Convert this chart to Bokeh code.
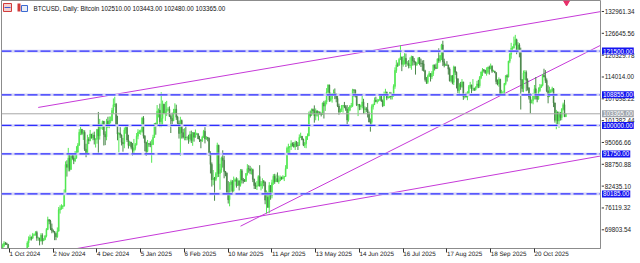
import datetime as dt
from bokeh.plotting import figure
from bokeh.layouts import row
from bokeh.models import (Range1d, LinearAxis, FixedTicker, Span, Label, ColumnDataSource)
from bokeh.core.properties import value
from bokeh.embed import file_html
from bokeh.resources import INLINE

# ---------------- data (prices in thousands of USD, daily bars) ----------------
chart_title = "BTCUSD, Daily:  Bitcoin"
start_date = "2024-09-26"
first_open_k = 63.2

close_k = [
    65.2, 65.9, 65.8, 65.6, 63.3,  # Sep 2024 (26-30)
    60.8, 60.6, 60.8, 62.1, 62.1, 62.8, 62.2, 62.1, 60.6, 60.3, 62.4, 62.9, 62.8, 66.0, 67.0, 67.6,
    67.4, 68.4, 68.4, 69.0, 67.4, 67.4, 66.6, 68.2, 66.6, 67.0, 68.0, 69.9, 72.7, 72.3, 70.2,  # Oct
    69.5, 69.3, 68.7, 67.8, 69.4, 75.6, 75.9, 76.5, 76.7, 80.5, 88.7, 87.9, 90.5, 87.3, 91.1,
    90.6, 89.8, 90.5, 92.3, 94.3, 98.0, 98.9, 97.7, 98.0, 93.1, 91.9, 95.9, 95.6, 97.5, 96.4,  # Nov
    97.2, 95.9, 96.0, 98.8, 97.0, 99.9, 99.9, 101.2, 97.4, 96.7, 101.2, 100.0, 101.4, 101.4, 104.3, 106.0,
    106.1, 100.0, 97.5, 97.8, 97.2, 95.1, 94.7, 98.7, 99.4, 95.8, 94.2, 95.2, 93.7, 92.8, 93.4,  # Dec
    94.4, 96.9, 98.1, 98.2, 98.3, 102.1, 96.9, 95.0, 92.5, 94.7, 94.6, 94.5, 94.5, 96.5, 100.5, 99.9,
    104.1, 104.4, 101.1, 102.0, 106.1, 103.6, 104.0, 104.7, 104.7, 102.6, 102.0, 101.3, 103.7, 104.7, 102.4,  # Jan 2025
    100.6, 97.7, 101.4, 97.9, 96.6, 96.6, 96.5, 96.5, 96.1, 97.4, 95.7, 97.9, 96.6, 97.5,
    97.6, 96.1, 95.8, 95.5, 96.6, 98.3, 96.1, 96.6, 96.3, 91.5, 88.7, 84.3, 84.7, 84.4,  # Feb
    86.0, 94.3, 86.1, 87.2, 90.6, 89.9, 86.7, 86.2, 80.7, 78.5, 82.9, 83.7, 81.1, 83.9, 84.3, 82.6,
    84.0, 82.7, 86.9, 84.2, 84.0, 83.8, 86.1, 87.5, 87.4, 86.9, 87.2, 84.4, 82.6, 82.4, 82.5,  # Mar
    85.2, 82.5, 83.1, 83.8, 83.5, 78.4, 79.2, 76.3, 82.6, 79.6, 83.4, 85.3, 83.7, 84.6, 83.7,
    84.0, 84.9, 84.5, 85.1, 85.2, 87.5, 93.4, 93.7, 93.9, 94.7, 94.6, 93.8, 95.0, 94.3, 94.2,  # Apr
    96.5, 96.9, 95.9, 94.3, 94.7, 96.8, 97.0, 103.2, 102.9, 104.6, 104.2, 102.8, 104.2, 103.5, 103.7, 103.5,
    103.2, 106.5, 105.6, 106.8, 109.7, 111.7, 107.3, 107.8, 109.0, 109.4, 108.9, 107.8, 105.6, 103.9, 104.6,  # May
    105.7, 105.8, 105.4, 104.7, 101.6, 104.4, 105.6, 105.7, 110.3, 110.2, 108.7, 105.9, 106.1, 105.4, 105.6,
    106.8, 104.6, 104.8, 104.6, 103.3, 101.0, 100.9, 105.4, 106.0, 107.3, 106.9, 107.1, 107.3, 108.4, 107.1,  # Jun
    105.7, 108.8, 109.6, 107.9, 108.2, 109.2, 108.3, 108.9, 111.3, 115.9, 117.5, 117.4, 119.1, 119.8, 117.7, 118.7,
    119.4, 117.9, 117.9, 117.3, 117.4, 119.9, 118.7, 118.3, 117.6, 117.9, 119.4, 118.0, 117.9, 117.8, 115.8,  # Jul
    113.3, 112.5, 114.2, 115.0, 114.1, 115.0, 117.5, 116.7, 116.5, 119.3, 118.7, 120.2, 123.3, 118.4, 117.4, 117.5,
    117.4, 116.3, 112.9, 114.3, 112.5, 116.9, 115.4, 113.5, 110.1, 111.8, 111.2, 112.6, 108.4, 108.8, 108.2,  # Aug
    109.2, 111.2, 111.7, 110.7, 110.7, 110.2, 111.1, 112.0, 111.5, 113.9, 115.5, 116.1, 115.9, 115.3, 115.4,
    116.8, 116.5, 117.1, 115.7, 115.7, 115.3, 112.7, 112.0, 113.3, 109.0, 109.7, 109.7, 112.1, 114.4, 114.0,  # Sep
    118.6, 120.6, 122.3, 122.4, 123.5, 124.8, 121.5, 123.3, 121.7, 113.2, 110.7, 115.2, 115.3, 113.1, 110.8, 108.2,
    106.5, 107.2, 108.7, 110.6, 108.5, 107.6, 110.1, 111.0, 111.6, 114.5, 114.1, 113.0, 110.0, 108.3, 109.6,  # Oct
    110.1, 110.6, 106.5, 101.5, 103.9, 101.3, 103.4, 102.3, 104.7, 106.0, 102.51, 103.365,  # Nov 1-12
]
high_k = [
    65.8, 66.5, 66.3, 66.1, 65.6,
    64.1, 62.4, 61.5, 62.5, 62.4, 63.0, 64.5, 63.2, 62.5, 61.3, 63.4, 63.4, 63.3, 66.5, 67.9, 68.4,
    67.9, 68.9, 68.7, 69.4, 69.5, 67.8, 67.5, 68.8, 68.8, 67.4, 68.3, 70.3, 73.6, 72.9, 72.7,
    71.6, 69.9, 69.4, 69.0, 70.5, 76.4, 76.9, 77.2, 76.9, 81.5, 89.6, 89.9, 93.5, 91.8, 91.8,
    91.7, 91.4, 92.6, 94.0, 94.9, 98.9, 99.6, 98.8, 98.7, 98.6, 94.7, 97.3, 96.6, 98.7, 97.5,
    97.9, 98.2, 96.3, 99.0, 103.9, 101.9, 100.5, 101.4, 101.3, 98.3, 101.9, 102.5, 102.6, 102.6, 105.1, 107.8,
    108.3, 106.5, 102.8, 98.0, 99.5, 97.4, 96.4, 99.4, 99.9, 99.9, 97.3, 95.5, 95.2, 94.9, 96.1,
    94.9, 97.8, 98.9, 98.7, 98.8, 102.5, 102.7, 97.2, 95.3, 95.8, 94.9, 95.4, 95.9, 97.3, 100.7, 100.8,
    105.9, 104.9, 106.3, 109.6, 107.2, 106.3, 106.8, 107.1, 105.3, 105.5, 103.2, 103.7, 104.8, 106.4, 106.0,
    102.8, 101.4, 102.5, 101.7, 99.0, 99.2, 100.1, 96.9, 97.3, 98.3, 98.5, 98.1, 98.0, 98.8,
    97.9, 97.7, 97.0, 96.0, 97.0, 98.7, 99.5, 96.9, 96.5, 96.5, 92.5, 89.3, 87.1, 85.1,
    86.5, 95.0, 94.4, 88.9, 91.0, 92.8, 91.2, 86.8, 86.4, 83.9, 83.6, 84.3, 84.2, 85.2, 84.7, 85.0,
    84.7, 83.9, 87.4, 87.4, 84.8, 84.5, 86.2, 88.8, 88.5, 88.3, 87.8, 87.5, 84.6, 83.5, 83.9,
    85.6, 88.5, 83.9, 84.7, 84.2, 83.8, 81.2, 80.8, 83.6, 82.7, 84.3, 85.9, 86.0, 85.8, 86.4,
    85.5, 85.5, 85.2, 85.6, 85.3, 88.5, 93.9, 94.7, 94.0, 95.7, 95.1, 95.2, 95.6, 95.5, 95.2,
    97.4, 97.9, 96.9, 96.2, 95.2, 96.9, 97.7, 104.0, 104.3, 104.9, 104.9, 105.8, 104.9, 104.4, 104.2, 104.1,
    103.7, 106.6, 107.1, 107.3, 110.8, 111.9, 111.8, 109.5, 109.3, 110.4, 110.7, 109.3, 108.9, 106.3, 104.9,
    105.9, 105.9, 106.8, 105.9, 105.9, 105.3, 105.9, 106.5, 110.6, 110.4, 110.4, 108.9, 106.2, 106.2, 106.0,
    108.9, 107.7, 105.5, 105.3, 106.5, 104.0, 102.0, 106.1, 106.3, 108.1, 108.3, 107.7, 107.6, 108.5, 108.8,
    107.5, 109.8, 110.6, 109.8, 108.5, 109.7, 109.7, 109.2, 111.9, 116.8, 118.9, 118.2, 119.5, 123.2, 119.9, 120.1,
    120.9, 120.8, 118.6, 118.9, 119.7, 120.2, 120.1, 119.5, 118.5, 118.4, 119.8, 119.8, 119.3, 118.8, 118.9,
    116.1, 114.0, 114.7, 115.7, 115.1, 115.7, 117.6, 117.6, 117.9, 119.3, 122.3, 120.3, 123.6, 124.5, 119.3, 117.9,
    118.6, 117.6, 116.8, 114.6, 114.6, 117.3, 117.1, 115.6, 113.6, 112.3, 112.6, 113.4, 112.6, 108.9, 109.5,
    109.9, 111.7, 112.6, 111.8, 113.4, 110.9, 111.3, 112.9, 113.2, 114.3, 115.5, 116.6, 116.3, 116.1, 116.8,
    117.0, 117.3, 117.9, 117.4, 116.1, 115.8, 115.3, 113.3, 113.9, 113.5, 110.3, 109.8, 112.3, 114.5, 114.8,
    118.7, 121.0, 123.9, 122.9, 125.7, 126.2, 125.1, 124.1, 123.8, 122.5, 113.4, 115.9, 116.0, 115.9, 113.6, 111.1,
    109.3, 107.5, 109.4, 111.7, 114.0, 109.1, 111.0, 112.0, 111.9, 114.9, 116.4, 116.0, 113.6, 111.6, 111.2,
    110.5, 111.2, 110.8, 106.6, 104.5, 104.0, 104.0, 103.9, 105.0, 106.6, 107.4, 103.443,
]
low_k = [
    62.7, 64.8, 65.4, 65.4, 62.9,
    60.2, 59.9, 59.8, 60.5, 61.7, 61.8, 62.1, 61.9, 60.3, 58.9, 60.1, 62.4, 62.0, 62.5, 64.8, 66.7,
    66.7, 67.1, 68.0, 68.1, 66.6, 66.7, 65.3, 66.4, 65.5, 66.6, 66.8, 67.6, 69.7, 71.4, 69.7,
    68.8, 69.0, 66.8, 66.8, 67.5, 69.3, 74.5, 75.6, 75.8, 76.5, 80.2, 85.2, 86.7, 86.7, 87.1,
    90.1, 88.8, 89.4, 90.4, 91.6, 94.1, 97.2, 97.2, 95.8, 92.6, 90.8, 91.7, 94.6, 95.4, 96.2,
    95.7, 94.5, 93.6, 94.7, 92.1, 95.9, 98.9, 98.7, 94.2, 94.3, 95.7, 99.3, 99.2, 100.6, 101.2, 103.3,
    105.3, 99.9, 95.7, 92.2, 96.4, 94.2, 92.4, 93.4, 97.6, 95.2, 93.3, 94.0, 93.1, 91.3, 92.0,
    92.8, 94.2, 96.0, 97.5, 97.3, 97.9, 96.2, 92.5, 91.2, 92.2, 93.8, 93.7, 89.2, 94.3, 96.5, 97.3,
    99.9, 102.3, 99.5, 99.5, 100.1, 103.3, 101.3, 102.7, 104.1, 102.5, 97.8, 100.3, 101.3, 103.3, 101.6,
    100.3, 96.2, 91.2, 96.2, 96.2, 95.7, 95.7, 95.7, 94.7, 95.3, 94.9, 94.1, 95.3, 96.5,
    97.2, 96.1, 95.2, 93.4, 95.2, 96.4, 94.8, 95.8, 95.4, 91.2, 86.1, 82.3, 82.7, 78.2,
    83.9, 85.0, 85.1, 81.4, 86.3, 87.8, 84.7, 85.3, 80.1, 77.4, 76.6, 80.8, 79.9, 80.8, 83.7, 82.0,
    82.5, 81.2, 82.3, 83.2, 83.2, 83.7, 83.8, 85.5, 86.3, 85.9, 85.8, 83.6, 81.6, 81.6, 81.3,
    82.4, 82.3, 81.2, 81.7, 82.4, 77.2, 74.5, 76.2, 74.6, 78.5, 78.9, 82.8, 83.1, 83.7, 83.6,
    83.1, 83.9, 84.3, 84.4, 83.9, 85.1, 87.6, 91.9, 91.7, 92.9, 93.9, 93.6, 92.9, 93.8, 92.9,
    94.1, 96.4, 95.7, 94.0, 93.5, 93.4, 95.8, 96.9, 102.3, 102.8, 103.3, 100.8, 101.5, 102.6, 101.4, 103.1,
    102.6, 103.1, 102.0, 104.2, 106.1, 109.3, 106.8, 106.9, 106.6, 108.7, 107.6, 106.7, 105.3, 103.1, 103.7,
    103.9, 103.7, 105.0, 104.2, 100.4, 101.1, 104.1, 105.1, 105.3, 108.3, 108.1, 105.6, 102.7, 104.4, 104.5,
    105.0, 103.4, 103.5, 103.9, 102.3, 100.9, 98.2, 99.6, 104.6, 105.9, 106.7, 106.3, 106.9, 107.2, 106.8,
    105.3, 105.6, 108.5, 107.3, 107.8, 107.9, 107.5, 107.5, 108.3, 110.6, 115.2, 116.9, 117.3, 118.9, 115.7, 117.0,
    117.6, 116.9, 117.3, 116.5, 116.6, 116.1, 117.3, 117.4, 114.7, 117.2, 117.8, 117.4, 116.9, 115.8, 115.6,
    112.7, 112.0, 112.0, 114.1, 112.7, 113.4, 114.3, 115.9, 116.3, 116.5, 118.1, 118.2, 118.9, 117.2, 116.8, 117.2,
    117.3, 114.7, 112.7, 112.4, 111.9, 111.7, 114.6, 110.7, 109.3, 109.0, 110.3, 110.9, 107.4, 107.8, 108.1,
    107.3, 108.8, 110.6, 109.3, 110.0, 110.0, 110.2, 110.7, 110.8, 110.9, 113.4, 114.3, 115.3, 114.9, 114.4,
    114.9, 114.7, 116.2, 115.2, 115.5, 115.1, 111.9, 111.6, 111.2, 108.7, 108.6, 109.1, 109.3, 111.6, 112.7,
    113.9, 118.0, 119.3, 121.6, 122.2, 123.1, 120.6, 121.1, 119.7, 104.6, 109.7, 109.6, 113.2, 109.9, 110.1, 107.5,
    103.5, 106.4, 106.1, 107.5, 107.5, 106.7, 107.5, 109.7, 110.9, 111.3, 113.9, 112.3, 109.6, 106.4, 108.9,
    109.4, 109.6, 105.3, 100.8, 98.9, 100.3, 99.3, 101.4, 101.5, 104.3, 102.5, 102.48,
]

x_tick_dates = ["2024-10-01", "2024-11-02", "2024-12-04", "2025-01-05", "2025-02-06", "2025-03-10",
                "2025-04-11", "2025-05-13", "2025-06-14", "2025-07-16", "2025-08-17", "2025-09-18",
                "2025-10-20"]
x_tick_labels = ["1 Oct 2024", "2 Nov 2024", "4 Dec 2024", "5 Jan 2025", "6 Feb 2025", "10 Mar 2025",
                 "11 Apr 2025", "13 May 2025", "14 Jun 2025", "16 Jul 2025", "17 Aug 2025", "18 Sep 2025",
                 "20 Oct 2025"]
y_tick_values = [132961.34, 126645.56, 120329.78, 114014.00, 107698.22, 101382.44,
                 95066.66, 88750.88, 82435.10, 76119.32, 69803.54]
level_prices = [121500.0, 108855.0, 100000.0, 91750.0, 80185.0]
trend_upper = [("2024-10-22", 105200.0), ("2025-12-07", 132900.0)]
trend_lower = [("2024-10-22", 62400.0), ("2025-12-07", 91120.0)]
trend_support = [("2025-03-19", 70850.0), ("2025-12-07", 123100.0)]

# ---------------- build ----------------
origin = dt.date(2024, 10, 1)


def day_index(s):
    return (dt.date.fromisoformat(s) - origin).days


d0 = day_index(start_date)
days = [d0 + i for i in range(len(close_k))]
closes = [v * 1000 for v in close_k]
opens = [first_open_k * 1000] + closes[:-1]
highs = [max(h * 1000, o, c) for h, o, c in zip(high_k, opens, closes)]
lows = [min(l * 1000, o, c) for l, o, c in zip(low_k, opens, closes)]
BULL, BEAR = "#52e852", "#4a874a"
colors = [BULL if c >= o else BEAR for o, c in zip(opens, closes)]
src = ColumnDataSource(dict(x=days, o=opens, h=highs, l=lows, c=closes,
                            top=[max(o, c) for o, c in zip(opens, closes)],
                            bot=[min(o, c) for o, c in zip(opens, closes)],
                            col=colors))

H = 263
FRAME_H = 248
MAIN_W = 601           # frame from x=1 to x=600, 1px spare on the right
SCALE_W = 640 - MAIN_W
PX_PER_DAY = 1.367
x_start = -5.85
x_end = x_start + 599 / PX_PER_DAY
y_range = Range1d(64393.0, 136143.0)
PRICE_PER_PX = (y_range.end - y_range.start) / FRAME_H

FONT = "Liberation Sans"
FS = "6.3px"

p = figure(width=MAIN_W, height=H, output_backend="svg", toolbar_location=None,
           x_range=Range1d(x_start, x_end), y_range=y_range,
           x_axis_location=None, y_axis_location=None,
           min_border_left=1, min_border_right=1, min_border_top=0, min_border_bottom=H - FRAME_H,
           background_fill_color="white", border_fill_color="white")
p.outline_line_color = "#8c8c8c"
p.xgrid.visible = False
p.ygrid.visible = False

# bottom time axis (labels start at their tick, as in the terminal)
tick_days = [day_index(s) for s in x_tick_dates]
xax = LinearAxis(ticker=FixedTicker(ticks=tick_days),
                 major_label_overrides={k: t for k, t in zip(tick_days, x_tick_labels)},
                 major_label_orientation=-0.001, axis_line_color="#8c8c8c",
                 major_tick_line_color="#333333", major_tick_out=4, major_tick_in=0,
                 minor_tick_line_color=None, major_label_standoff=1,
                 major_label_text_font=FONT, major_label_text_font_size=FS,
                 major_label_text_color="#222222")
p.add_layout(xax, "below")

# horizontal levels
for lv in level_prices:
    p.add_layout(Span(location=lv, dimension="width", line_color="#d4d4f6", line_width=2.6))
    p.add_layout(Span(location=lv, dimension="width", line_color="#2f2fff", line_width=1.3,
                      line_dash="10 3"))
last_close = closes[-1]
p.add_layout(Span(location=last_close, dimension="width", line_color="#a8a8a8", line_width=1))

# trend lines
for pts in (trend_upper, trend_lower, trend_support):
    p.line([day_index(pts[0][0]), day_index(pts[1][0])], [pts[0][1], pts[1][1]],
           line_color="#c63ad8", line_width=1)

# candles
p.segment(x0="x", y0="l", x1="x", y1="h", source=src, line_color="col", line_width=1)
p.vbar(x="x", width=0.6, top="top", bottom="bot", source=src, fill_color="col", line_color="col",
       line_width=0.6)

# shift marker
p.scatter([days[-1] + 0.5], [y_range.end - 2 * PRICE_PER_PX], marker="inverted_triangle", size=6,
          fill_color="#e8306a", line_color="#e8306a")


def px_x(px):
    return x_start + (px - 1) / PX_PER_DAY


def px_y(py):
    return y_range.end - py * PRICE_PER_PX


# header icons
p.quad(left=[px_x(3)], right=[px_x(11)], top=[px_y(3)], bottom=[px_y(11)],
       fill_color="#f3d0d0", line_color="#d23c3c", line_width=1)
p.quad(left=[px_x(4)], right=[px_x(10)], top=[px_y(6.5)], bottom=[px_y(7.5)],
       fill_color="#3c5ad2", line_color=None)
p.quad(left=[px_x(17)], right=[px_x(20)], top=[px_y(3)], bottom=[px_y(11)],
       fill_color="#d23c3c", line_color=None)
p.quad(left=[px_x(21)], right=[px_x(27)], top=[px_y(5)], bottom=[px_y(11)],
       fill_color="#e8eef8", line_color="#3c6ad2", line_width=1)

header = "{}  {:.2f} {:.2f} {:.2f} {:.2f}".format(chart_title, opens[-1], highs[-1], lows[-1], closes[-1])
p.add_layout(Label(x=px_x(33), y=px_y(7.5), text=header, text_font=FONT, text_font_size=FS,
                   text_color="#111111", text_align="left", text_baseline="middle"))

# ---------------- price scale (right) ----------------
s = figure(width=SCALE_W, height=H, output_backend="svg", toolbar_location=None,
           x_range=Range1d(0, SCALE_W), y_range=y_range,
           x_axis_location=None, y_axis_location=None,
           min_border_left=0, min_border_right=0, min_border_top=0, min_border_bottom=H - FRAME_H,
           background_fill_color="white", border_fill_color="white")
s.outline_line_color = None
s.xgrid.visible = False
s.ygrid.visible = False
s.segment(x0=[0] * len(y_tick_values), x1=[2.5] * len(y_tick_values), y0=y_tick_values,
          y1=y_tick_values, line_color="#333333", line_width=1)
s.text(x=[3.2] * len(y_tick_values), y=y_tick_values, text=[f"{v:.2f}" for v in y_tick_values],
       text_font=value(FONT), text_font_size=FS, text_color="#222222",
       text_align="left", text_baseline="middle")
for lv in level_prices:
    s.add_layout(Label(x=0.5, y=lv, text=f"{lv:.2f}", text_font=FONT, text_font_size=FS,
                       text_color="white", text_align="left", text_baseline="middle",
                       background_fill_color="#1414f0", padding=1))
s.add_layout(Label(x=0.5, y=last_close, text=f"{last_close:.2f}", text_font=FONT, text_font_size=FS,
                   text_color="white", text_align="left", text_baseline="middle",
                   background_fill_color="#9ea4ac", padding=1))

layout = row(p, s, spacing=0)
open("out.html", "w").write(file_html(layout, INLINE))
